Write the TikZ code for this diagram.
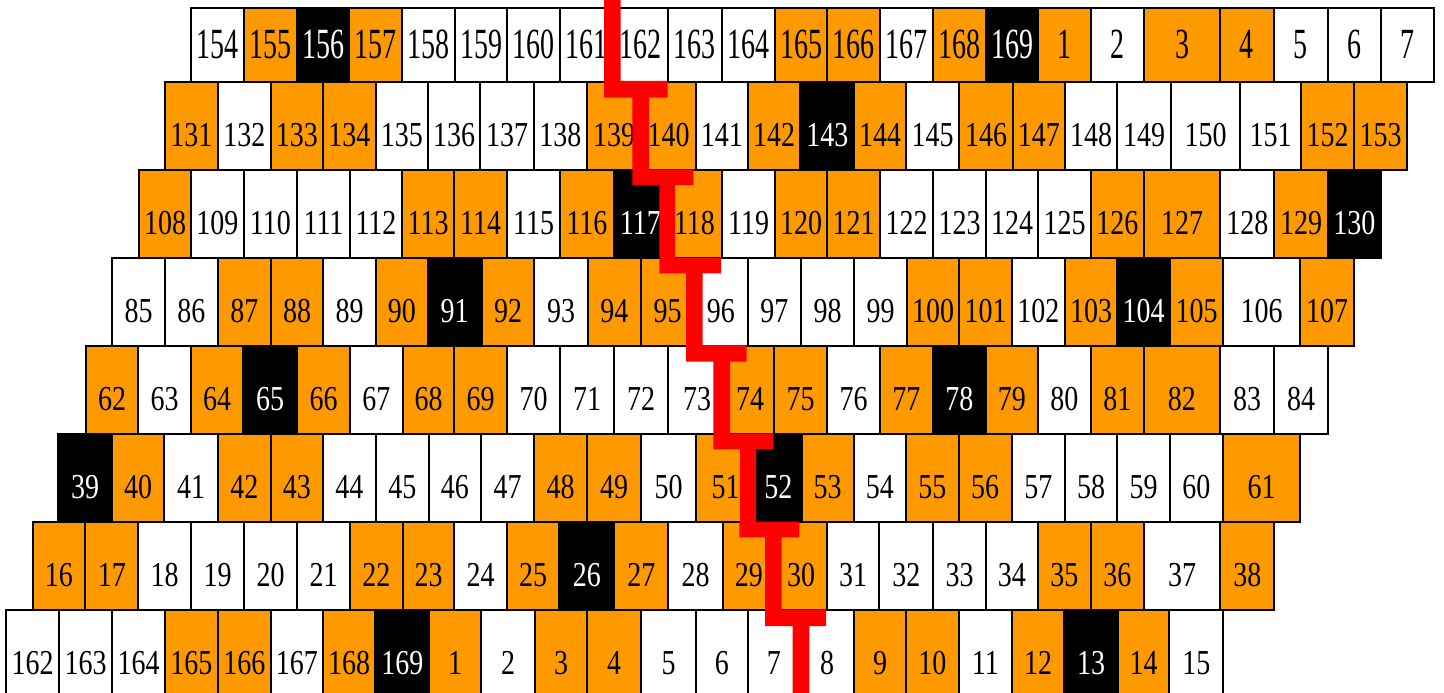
\documentclass[tikz,border=0pt]{standalone}
\usepackage{fontspec}
\setmainfont{Liberation Serif}
\usepackage{graphicx}
\definecolor{fW}{RGB}{255,255,255}
\definecolor{fO}{RGB}{255,153,0}
\definecolor{fB}{RGB}{0,0,0}
\definecolor{tW}{RGB}{0,0,0}
\definecolor{tO}{RGB}{0,0,0}
\definecolor{tB}{RGB}{255,255,255}
\definecolor{redc}{RGB}{255,0,0}
\newcommand{\cnum}[1]{\scalebox{0.8}[1]{#1}}
\newcommand{\cnumtop}[1]{\scalebox{0.8}[1.23]{#1}}
\newcommand{\cellrow}[5]{%
  \foreach \xl/\xr/\lab/\sty [count=\ii] in {#5} {
    \node[cell, #3, fill=f\sty, text=t\sty, minimum width={\xr pt-\xl pt}] (#1-\ii) at (\xl,#2) {#4{\lab}};
  }}
\begin{document}
\begin{tikzpicture}[x=1pt,y=-1pt,
  font=\fontsize{35}{35}\selectfont,
  cell/.style={draw=black, line width=2pt, inner sep=0pt, anchor=north west},
  toprow/.style={text height=50pt, text depth=23.5pt},
  stdrow/.style={text height=64.25pt, text depth=23.75pt},
  redbar/.style={fill=redc, draw=none}]
\path[use as bounding box] (0,0) rectangle (1444,693);
\clip (0,0) rectangle (1444,693);
\fill[white] (0,0) rectangle (1444,693);

\cellrow{r1}{7.5}{toprow}{\cnumtop}{190/243.3/154/W, 243.3/295.7/155/O, 295.7/348.3/156/B, 348.3/400.7/157/O, 400.7/454/158/W, 454/506/159/W, 506/559/160/W, 559/612/161/W, 612/666.7/162/W, 666.7/720.7/163/W, 720.7/774/164/W, 774/826/165/O, 826/879.3/166/O, 879.3/931.7/167/W, 931.7/985/168/O, 985/1037/169/B, 1037/1090/1/O, 1090/1143.3/2/W, 1143.3/1219/3/O, 1219/1272.7/4/O, 1272.7/1326.7/5/W, 1326.7/1380/6/W, 1380/1433.3/7/W}

\cellrow{r2}{81}{stdrow}{\cnum}{164/216.7/131/O, 216.7/270/132/W, 270/321.7/133/O, 321.7/375/134/O, 375/426.7/135/W, 426.7/479.3/136/W, 479.3/532.7/137/W, 532.7/586/138/W, 586/640/139/O, 640/695/140/O, 695/746.7/141/W, 746.7/799.3/142/O, 799.3/853.3/143/B, 853.3/905/144/O, 905/958.3/145/W, 958.3/1011.7/146/O, 1011.7/1064/147/O, 1064/1116/148/W, 1116/1170/149/W, 1170/1239/150/W, 1239/1300/151/W, 1300/1353.3/152/O, 1353.3/1405.7/153/O}

\cellrow{r3}{169}{stdrow}{\cnum}{138.3/190/108/O, 190/242.7/109/W, 242.7/296/110/W, 296/349/111/W, 349/401/112/W, 401/453.3/113/O, 453.3/506/114/O, 506/559.3/115/W, 559.3/612.7/116/O, 612.7/666/117/B, 666/721/118/O, 721/774.3/119/W, 774.3/826/120/O, 826/879/121/O, 879/932.3/122/W, 932.3/985/123/W, 985/1037.3/124/W, 1037.3/1090/125/W, 1090/1142.7/126/O, 1142.7/1219.3/127/O, 1219.3/1273.3/128/W, 1273.3/1326.7/129/O, 1326.7/1380/130/B}

\cellrow{r4}{257}{stdrow}{\cnum}{111/164/85/W, 164/216.7/86/W, 216.7/270/87/O, 270/322.3/88/O, 322.3/375/89/W, 375/426.7/90/O, 426.7/480.7/91/B, 480.7/533.3/92/O, 533.3/586.7/93/W, 586.7/640/94/O, 640/693/95/O, 693/746.7/96/W, 746.7/800/97/W, 800/853.3/98/W, 853.3/905.7/99/W, 905.7/958.3/100/O, 958.3/1010.7/101/O, 1010.7/1064/102/W, 1064/1116/103/O, 1116/1169.3/104/B, 1169.3/1221.7/105/O, 1221.7/1299.3/106/W, 1299.3/1352.7/107/O}

\cellrow{r5}{345}{stdrow}{\cnum}{85/137.3/62/O, 137.3/190/63/W, 190/242.3/64/O, 242.3/296/65/B, 296/349/66/O, 349/401.7/67/W, 401.7/453.3/68/O, 453.3/506/69/O, 506/559.3/70/W, 559.3/612.7/71/W, 612.7/667.3/72/W, 667.3/725/73/W, 725/773.3/74/O, 773.3/826/75/O, 826/879/76/W, 879/931.7/77/O, 931.7/985/78/B, 985/1036.7/79/O, 1036.7/1090/80/W, 1090/1142.7/81/O, 1142.7/1219/82/O, 1219/1273.3/83/W, 1273.3/1326.7/84/W}

\cellrow{r6}{433}{stdrow}{\cnum}{57.3/111/39/B, 111/163.3/40/O, 163.3/216.7/41/W, 216.7/270/42/O, 270/321.7/43/O, 321.7/375/44/W, 375/427.7/45/W, 427.7/480/46/W, 480/533.3/47/W, 533.3/586/48/O, 586/640/49/O, 640/695/50/W, 695/754/51/O, 754/800.7/52/B, 800.7/852.7/53/O, 852.7/905/54/W, 905/957.7/55/O, 957.7/1010.7/56/O, 1010.7/1064/57/W, 1064/1116/58/W, 1116/1169/59/W, 1169/1221.7/60/W, 1221.7/1299.3/61/O}

\cellrow{r7}{521}{stdrow}{\cnum}{31.7/84.3/16/O, 84.3/137.3/17/O, 137.3/190/18/W, 190/243.3/19/W, 243.3/296/20/W, 296/349/21/W, 349/401.7/22/O, 401.7/453.3/23/O, 453.3/506/24/W, 506/558.3/25/O, 558.3/613.3/26/B, 613.3/667.3/27/O, 667.3/721.7/28/W, 721.7/774/29/O, 774/826/30/O, 826/878.3/31/W, 878.3/932.3/32/W, 932.3/985/33/W, 985/1036.7/34/W, 1036.7/1090/35/O, 1090/1142.7/36/O, 1142.7/1219.3/37/W, 1219.3/1273.3/38/O}

\cellrow{r8}{609}{stdrow}{\cnum}{5/58.3/162/W, 58.3/111/163/W, 111/164/164/W, 164/216.7/165/O, 216.7/270/166/O, 270/321.7/167/W, 321.7/374.3/168/O, 374.3/428.3/169/B, 428.3/480/1/O, 480/534/2/W, 534/586/3/O, 586/640/4/O, 640/695/5/W, 695/746.7/6/W, 746.7/799/7/W, 799/853.3/8/W, 853.3/905/9/O, 905/957.7/10/O, 957.7/1011/11/W, 1011/1063.3/12/O, 1063.3/1116.7/13/B, 1116.7/1168.3/14/O, 1168.3/1222.3/15/W}

% red staircase
\fill[redbar] (604,0) rectangle (620.7,97.7)
  (604,81) rectangle (667.7,97.7)
  (632.3,81) rectangle (649,185)
  (632.3,169.3) rectangle (693.3,185)
  (659.3,169.3) rectangle (675,273.3)
  (659.3,257.7) rectangle (721,273.3)
  (686,257.7) rectangle (702.7,361.5)
  (686,345) rectangle (746.7,361.5)
  (713.3,345) rectangle (730,449.3)
  (713.3,433.3) rectangle (773.3,449.3)
  (740,433.3) rectangle (756,537.3)
  (739.3,521.7) rectangle (799.3,537.3)
  (765,521.7) rectangle (781.7,626)
  (765,609.3) rectangle (826,626)
  (792.7,609.3) rectangle (809.3,693);
\end{tikzpicture}
\end{document}
